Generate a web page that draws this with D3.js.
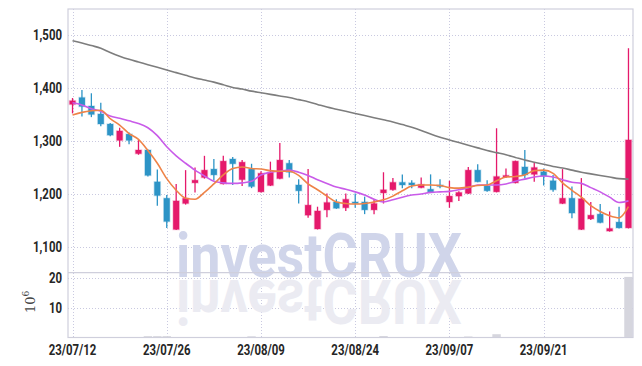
<!DOCTYPE html>
<html>
<head>
<meta charset="utf-8">
<script src="https://cdn.jsdelivr.net/npm/d3@7"></script>
<style>
  body { margin: 0; background: #fff; }
  #graf { width: 642px; height: 366px; }
  .lbl { font-family: Roboto, sans-serif; font-weight: 700; font-size: 15px; fill: #262626; }
</style>
</head>
<body>
<div id="graf"></div>
<script>
const fechas = ['23/07/12','23/07/13','23/07/14','23/07/17','23/07/18','23/07/19','23/07/20','23/07/21','23/07/24','23/07/25',
  '23/07/26','23/07/27','23/07/28','23/07/31','23/08/01','23/08/02','23/08/03','23/08/04','23/08/07','23/08/08',
  '23/08/09','23/08/10','23/08/11','23/08/14','23/08/16','23/08/17','23/08/18','23/08/21','23/08/22','23/08/23',
  '23/08/24','23/08/25','23/08/28','23/08/29','23/08/30','23/08/31','23/09/01','23/09/04','23/09/05','23/09/06',
  '23/09/07','23/09/08','23/09/11','23/09/12','23/09/13','23/09/14','23/09/15','23/09/18','23/09/19','23/09/20',
  '23/09/21','23/09/22','23/09/25','23/09/26','23/09/27','23/10/04','23/10/05','23/10/06','23/10/10','23/10/11']

const open = [1369,1382,1366,1351,1332,1301,1313,1276,1283,1223,1192,1133,1182,1221,1231,1247,1219,1266,1227,1247,
  1204,1216,1229,1258,1217,1160,1134,1170,1185,1174,1185,1185,1170,1202,1208,1222,1221,1212,1209,1217,
  1185,1196,1201,1245,1215,1204,1233,1221,1251,1237,1242,1225,1182,1192,1133,1153,1162,1130,1147,1136]
const high = [1381,1396,1390,1372,1334,1325,1316,1302,1284,1246,1198,1219,1245,1250,1272,1266,1272,1270,1264,1257,
  1243,1261,1296,1264,1228,1247,1176,1201,1190,1201,1201,1195,1190,1241,1230,1237,1226,1231,1237,1228,
  1225,1205,1251,1256,1226,1324,1248,1263,1283,1259,1248,1236,1247,1214,1230,1185,1181,1167,1176,1475]
const low = [1352,1346,1345,1328,1309,1289,1294,1274,1233,1178,1136,1132,1180,1203,1229,1226,1218,1217,1215,1211,
  1203,1215,1228,1231,1182,1155,1133,1156,1172,1168,1174,1162,1162,1182,1206,1211,1211,1211,1202,1211,
  1174,1187,1200,1222,1204,1203,1230,1220,1229,1223,1216,1204,1181,1154,1132,1151,1145,1129,1135,1135]
const close = [1376,1365,1350,1332,1311,1319,1301,1283,1235,1197,1148,1187,1192,1226,1245,1236,1262,1257,1260,1214,
  1239,1241,1264,1241,1206,1179,1168,1184,1173,1190,1183,1170,1182,1208,1222,1217,1217,1218,1203,1215,
  1196,1203,1245,1223,1206,1233,1235,1262,1236,1250,1234,1208,1192,1164,1191,1160,1146,1135,1136,1302]

// medias moviles
const ma5 = [1349,1354,1357,1358,1342,1330,1314,1303,1282,1258,1229,1207,1192,1190,1203,1219,1236,1248,1251,1248,
  1247,1244,1243,1243,1235,1219,1208,1196,1185,1182,1181,1182,1185,1189,1196,1206,1215,1217,1217,1216,
  1212,1211,1213,1216,1217,1225,1232,1233,1236,1244,1245,1239,1221,1207,1194,1178,1167,1159,1155,1176]
const ma20 = [1372,1368,1361,1356,1347,1343,1338,1333,1325,1310,1289,1272,1258,1245,1234,1224,1221,1220,1221,1224,
  1236,1241,1243,1245,1241,1235,1227,1220,1213,1209,1204,1198,1190,1185,1189,1194,1198,1200,1203,1204,
  1205,1208,1212,1217,1217,1217,1219,1224,1228,1232,1234,1232,1227,1222,1220,1212,1204,1194,1184,1187]
const ma120 = [1489,1485,1480,1475,1467,1460,1454,1449,1444,1439,1434,1429,1424,1419,1415,1411,1406,1401,1398,1394,
  1391,1388,1385,1382,1378,1374,1369,1364,1360,1356,1352,1348,1344,1340,1336,1331,1326,1320,1313,1307,
  1302,1297,1292,1287,1282,1278,1274,1269,1264,1260,1256,1252,1249,1245,1241,1238,1235,1232,1229,1228]

// volumen en millones
const volumen = [0.05,0.05,0.05,0.05,0.05,0.05,0.05,0.05,0.45,0.45,0.45,0.05,0.05,0.05,0.05,0.05,0.05,0.05,0.05,0.4,
  0.05,0.05,0.05,0.05,0.05,0.05,0.05,0.05,0.05,0.05,0.05,0.05,0.05,0.5,0.05,0.05,0.05,0.05,0.05,0.05,
  0.05,0.05,0.35,0.05,0.05,1.1,0.05,0.05,0.05,0.05,0.05,0.05,0.05,0.05,0.05,0.05,0.05,0.05,0.05,20.2]

const preciosTicks = [1100, 1200, 1300, 1400, 1500]
const volTicks = [10, 20]

const anchoTotal = 642
const altoTotal = 366
const margin = { top: 9, right: 9, left: 68 }
const corte = 272.7
const fondo = 337.5

const svg = d3.select('#graf').append('svg')
  .attr('width', anchoTotal).attr('height', altoTotal)

const x = d3.scalePoint().domain(d3.range(fechas.length))
  .range([margin.left, anchoTotal - margin.right]).padding(0.48)
const paso = x.step()
const y = d3.scaleLinear().domain([1051.5, 1549]).range([corte, margin.top])
const yv = d3.scaleLinear().domain([0, 21.6]).range([fondo, corte])

const gris = '#cfcfdc'
const grid = svg.append('g').attr('stroke', '#c9c9e0').attr('stroke-dasharray', '1,2')

grid.selectAll('.hg').data(preciosTicks).join('line')
  .attr('x1', margin.left).attr('x2', anchoTotal - margin.right)
  .attr('y1', (d) => Math.round(y(d)) + 0.5).attr('y2', (d) => Math.round(y(d)) + 0.5)
grid.selectAll('.vg').data(volTicks).join('line')
  .attr('x1', margin.left).attr('x2', anchoTotal - margin.right)
  .attr('y1', (d) => Math.round(yv(d)) + 0.5).attr('y2', (d) => Math.round(yv(d)) + 0.5)

const idxTicks = d3.range(0, fechas.length, 10)
grid.selectAll('.xg').data(idxTicks).join('line')
  .attr('x1', (d) => Math.round(x(d)) + 0.5).attr('x2', (d) => Math.round(x(d)) + 0.5)
  .attr('y1', margin.top).attr('y2', fondo)

// marca de agua
const marca = svg.append('g')
  .attr('font-family', 'Roboto, sans-serif')
  .attr('font-weight', 'bold').attr('font-size', 62)
marca.append('text').attr('x', 176).attr('y', 277).attr('fill', '#d0d5ea')
  .attr('textLength', 286).attr('lengthAdjust', 'spacingAndGlyphs').text('investCRUX')
marca.append('text').attr('x', 176).attr('y', -280).attr('fill', '#ebebf2')
  .attr('transform', 'scale(1,-1)')
  .attr('textLength', 286).attr('lengthAdjust', 'spacingAndGlyphs').text('investCRUX')

// volumen
svg.append('g').selectAll('rect').data(volumen).join('rect')
  .attr('x', (d, i) => x(i) - paso / 2 + 0.5)
  .attr('width', paso - 1)
  .attr('y', (d) => yv(d))
  .attr('height', (d) => fondo - yv(d))
  .attr('fill', '#d6d6de')

// marco
const marco = svg.append('g').attr('stroke', gris).attr('stroke-width', 1.2).attr('fill', 'none')
marco.append('rect').attr('x', margin.left).attr('y', margin.top)
  .attr('width', anchoTotal - margin.right - margin.left).attr('height', fondo - margin.top)
marco.append('line').attr('x1', margin.left).attr('x2', anchoTotal - margin.right)
  .attr('y1', corte).attr('y2', corte)

// velas
const rosa = '#e5196b'
const azul = '#2d94c6'
const color = (i) => (close[i] >= open[i] ? rosa : azul)
const velas = svg.append('g').selectAll('g').data(d3.range(fechas.length)).join('g')
velas.append('line')
  .attr('x1', (i) => x(i)).attr('x2', (i) => x(i))
  .attr('y1', (i) => y(high[i])).attr('y2', (i) => y(low[i]))
  .attr('stroke', color).attr('stroke-width', 1.3)
velas.append('rect')
  .attr('x', (i) => x(i) - 3)
  .attr('width', 6)
  .attr('y', (i) => y(Math.max(open[i], close[i])))
  .attr('height', (i) => Math.max(1.5, Math.abs(y(open[i]) - y(close[i]))))
  .attr('fill', color)
  .attr('stroke', color).attr('stroke-opacity', 0.25).attr('stroke-width', 1.5)

// lineas de medias
const generadorLinea = (serie) => d3.line().x((d, i) => x(i)).y((d) => y(d)).curve(d3.curveMonotoneX)(serie)
svg.append('path').attr('d', generadorLinea(ma120)).attr('fill', 'none').attr('stroke', '#7d7d7d').attr('stroke-width', 1.6)
svg.append('path').attr('d', generadorLinea(ma20)).attr('fill', 'none').attr('stroke', '#c95be9').attr('stroke-width', 1.6)
svg.append('path').attr('d', generadorLinea(ma5)).attr('fill', 'none').attr('stroke', '#ee8348').attr('stroke-width', 1.6)

// etiquetas (estrechadas para parecer condensadas)
const estrechar = (sel) => sel.each(function () {
  const w = this.getComputedTextLength()
  d3.select(this).attr('textLength', w * 0.76).attr('lengthAdjust', 'spacingAndGlyphs')
})
svg.append('g').selectAll('text').data(preciosTicks).join('text')
  .attr('class', 'lbl').attr('text-anchor', 'end')
  .attr('x', 62).attr('y', (d) => y(d) + 5.5)
  .text(d3.format(','))
  .call(estrechar)
svg.append('g').selectAll('text').data(volTicks).join('text')
  .attr('class', 'lbl').attr('text-anchor', 'end')
  .attr('x', 62).attr('y', (d) => yv(d) + 5.5)
  .text((d) => d)
  .call(estrechar)
svg.append('g').selectAll('text').data(idxTicks).join('text')
  .attr('class', 'lbl').attr('text-anchor', 'middle')
  .attr('x', (d) => x(d)).attr('y', 354.5)
  .text((d) => fechas[d])
  .call(estrechar)

const unidad = svg.append('text')
  .attr('transform', 'translate(35, 313) rotate(-90)')
  .attr('font-family', "'DejaVu Serif', serif").attr('font-size', 13).attr('fill', '#444')
unidad.append('tspan').text('10')
unidad.append('tspan').attr('dy', -6).attr('font-size', 9).text('6')
</script>
</body>
</html>
